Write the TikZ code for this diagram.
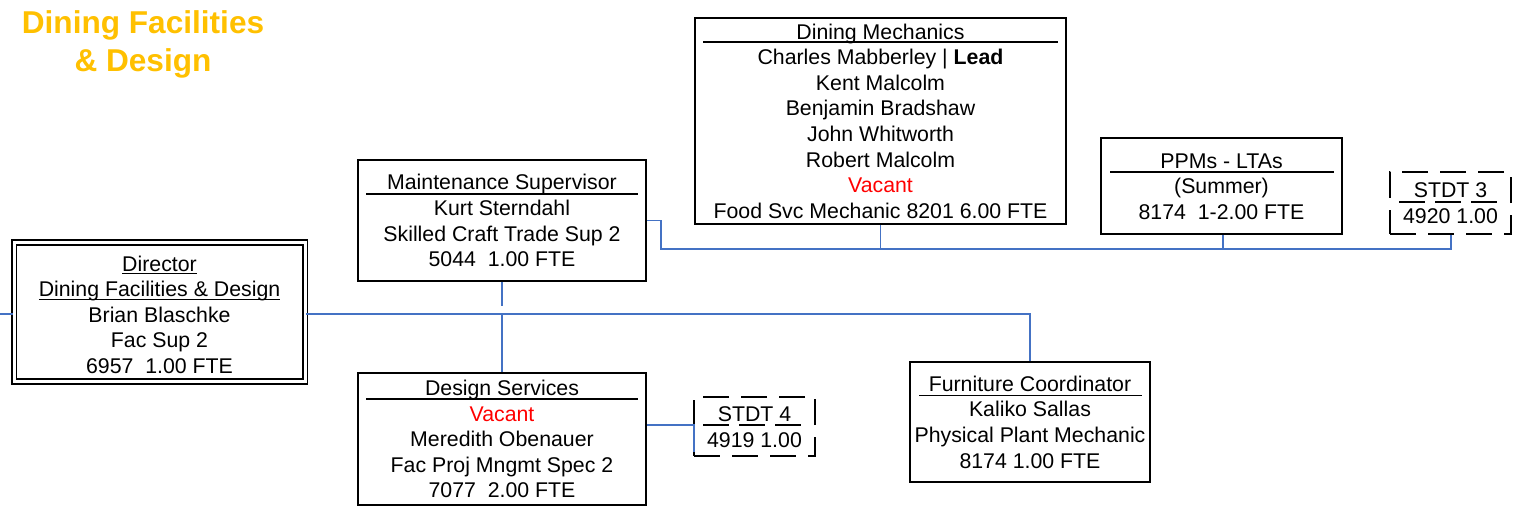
\documentclass[tikz,border=0pt]{standalone}
\usepackage{fontspec}
\setmainfont{Liberation Sans}
\usetikzlibrary{calc}
\definecolor{conblue}{HTML}{4472C4}
\definecolor{titlegold}{HTML}{FFC000}
\definecolor{vacred}{HTML}{FF0000}
\newcommand\ls{\rule[-5.1pt]{0pt}{25.6pt}}
\newcommand\myul[1]{\setbox0\hbox{#1}\rlap{\rule[-3.4pt]{\wd0}{1.4pt}}\box0}
\begin{document}
\begin{tikzpicture}[x=1pt,y=-1pt,
  boxtext/.style={font=\fontsize{21.3}{25.6}\selectfont, align=center, inner sep=0pt},
  orgbox/.style={boxtext, draw=black, line width=1.8pt, rectangle},
  stdtbox/.style={boxtext, draw=black, line width=1.8pt, dash pattern=on 26pt off 12pt},
  dirbox/.style={draw=black, line width=1.7pt, double, double distance=3pt, inner sep=0pt},
  conn/.style={draw=conblue, line width=1.8pt},
  rul/.style={draw=black, line width=1.5pt},
  drul/.style={draw=black, line width=1.5pt, dash pattern=on 26pt off 10pt}]
\useasboundingbox (0,0) rectangle (1521,507);

% title
\node[font=\fontsize{31.6}{38}\selectfont\bfseries, text=titlegold, align=center, inner sep=0pt] (title) at (143,41)
  {\rule[-8pt]{0pt}{38pt}Dining Facilities\\\rule[-8pt]{0pt}{38pt}\& Design};

% director
\node[dirbox, minimum width=291pt, minimum height=139pt] (dir) at (159.5,312) {};
\node[boxtext] (dirt) at (159.5,314.5) {\ls\myul{Director}\\\ls\myul{Dining Facilities \& Design}\\\ls Brian Blaschke\\\ls Fac Sup 2\\\ls 6957\ \ 1.00 FTE};

% maintenance supervisor
\node[orgbox, minimum width=288pt, minimum height=121pt] (ms) at (502,220.5)
  {\ls Maintenance Supervisor\\\ls Kurt Sterndahl\\\ls Skilled Craft Trade Sup 2\\\ls 5044\ \ 1.00 FTE};
\draw[rul] ($(ms.north west)+(9,35)$) -- ($(ms.north east)+(-9,35)$);

% dining mechanics
\node[orgbox, minimum width=371pt, minimum height=206pt] (dm) at (880.5,121)
  {\ls Dining Mechanics\\\ls Charles Mabberley | \textbf{Lead}\\\ls Kent Malcolm\\\ls Benjamin Bradshaw\\\ls John Whitworth\\\ls Robert Malcolm\\\ls\textcolor{vacred}{Vacant}\\\ls Food Svc Mechanic 8201 6.00 FTE};
\draw[rul] ($(dm.north west)+(9,25)$) -- ($(dm.north east)+(-9,25)$);

% PPMs
\node[orgbox, minimum width=241pt, minimum height=96pt] (pp) at (1221.5,186)
  {\ls PPMs - LTAs\\\ls (Summer)\\\ls 8174\ \ 1-2.00 FTE};
\draw[rul] ($(pp.north west)+(10,35)$) -- ($(pp.north east)+(-9,35)$);

% STDT 3
\node[stdtbox, minimum width=121pt, minimum height=62pt] (s3) at (1450.5,203)
  {\ls STDT 3\\\ls 4920 1.00};
\draw[drul] ($(s3.north west)+(10,31)$) -- ($(s3.north east)+(-10,31)$);

% design services
\node[orgbox, minimum width=288pt, minimum height=132pt] (ds) at (502,439)
  {\ls Design Services\\\ls\textcolor{vacred}{Vacant}\\\ls Meredith Obenauer\\\ls Fac Proj Mngmt Spec 2\\\ls 7077\ \ 2.00 FTE};
\draw[rul] ($(ds.north west)+(9,27)$) -- ($(ds.north east)+(-9,27)$);

% STDT 4
\node[stdtbox, minimum width=121pt, minimum height=59pt] (s4) at (754.5,426.5)
  {\ls STDT 4\\\ls 4919 1.00};
\draw[drul] ($(s4.north west)+(10,29)$) -- ($(s4.north east)+(-10,29)$);

% furniture coordinator
\node[orgbox, minimum width=240pt, minimum height=120pt] (fc) at (1030,422)
  {\ls Furniture Coordinator\\\ls Kaliko Sallas\\\ls Physical Plant Mechanic\\\ls 8174 1.00 FTE};
\draw[rul] ($(fc.north west)+(10,34.5)$) -- ($(fc.north east)+(-9,34.5)$);

% connectors
\coordinate (lin) at (0,314);
\coordinate (j1) at (502,314);
\coordinate (msend) at (502,306);
\coordinate (fcj) at (1030,314);
\coordinate (bus1) at (661,220.5);
\coordinate (bus2) at (661,249);
\coordinate (bus3) at (1451,249);
\coordinate (dmj) at (880.5,249);
\coordinate (ppj) at (1223,249);
\coordinate (s4a) at (694,425);
\coordinate (s4b) at (694,452);

\draw[conn] (lin) -- (lin -| dir.west);
\draw[conn] (lin -| dir.east) -- (fcj) -- (fc.north);
\draw[conn] (ms.south) -- (msend);
\draw[conn] (j1) -- (ds.north);
\draw[conn] (ms.east) -- (bus1) -- (bus2) -- (bus3) -- (bus3 |- s3.south);
\draw[conn] (dm.south) -- (dmj);
\draw[conn] (ppj |- pp.south) -- (ppj);
\draw[conn] ([yshift=14pt]ds.east) -- (s4a) -- (s4b);
\end{tikzpicture}
\end{document}
